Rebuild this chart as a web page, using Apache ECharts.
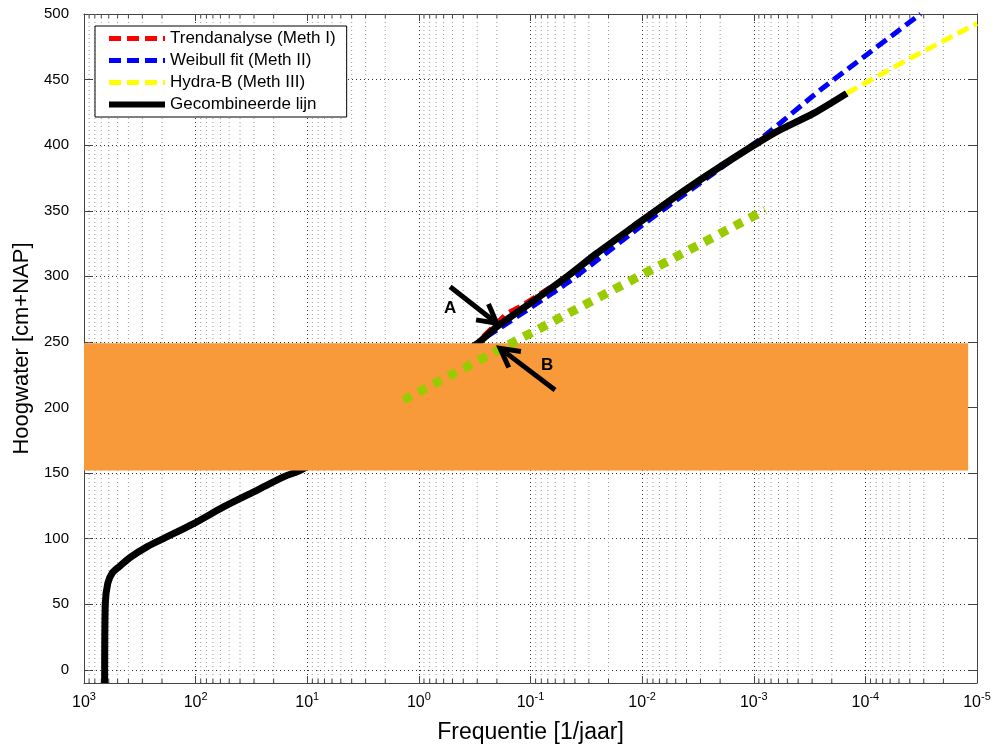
<!DOCTYPE html>
<html>
<head>
<meta charset="utf-8">
<title>Hoogwater frequentielijn</title>
<script src="https://cdn.jsdelivr.net/npm/echarts@6/dist/echarts.min.js"></script>
<style>
html,body{margin:0;padding:0;background:#fff;}
#main{width:1008px;height:744px;}
</style>
</head>
<body>
<div id="main"></div>
<script>
// frequentie in 1/jaar, hoogwater in cm+NAP
var trendFreq = [0.266, 0.163, 0.124, 0.0415, 0.0292];
var trendLevel = [254, 271.8, 276.9, 302.5, 312.5];

var weibullFreq = [0.247, 0.0473, 0.0104, 8.2e-4, 2.54e-4, 3.2e-5];
var weibullLevel = [254, 294.7, 337.8, 406.5, 442, 500];

var hydraFreq = [1.47e-4, 4.26e-5, 1e-5];
var hydraLevel = [439.5, 464.9, 492.8];

var combFreq = [653, 645, 612, 557, 486, 382, 271, 192, 103, 55.7, 28, 16.1, 10.7,
  0.295, 0.2005, 0.101, 0.0473, 0.0255, 0.01197, 0.00456, 0.002, 6.65e-4, 2.92e-4, 1.47e-4];
var combLevel = [-10, 50, 66, 74, 78.6, 86, 94, 100.3, 111.7, 124.4, 137.1, 147.3, 153.7,
  249.2, 261.6, 279.4, 299.7, 317.5, 337.8, 363.3, 383.6, 409, 424.2, 439.5];

var greenFreq = [1.377, 7.9e-4];
var greenLevel = [205.7, 350.6];

// oranje band
var bandFreq = [1e3, 1.2e-5];
var bandLevel = [152, 249];

// pijlen A en B
var arrowNames = ['A', 'B'];
var arrowTailFreq = [0.525, 0.0603];
var arrowTailLevel = [292.1, 213.4];
var arrowTipFreq = [0.2005, 0.187];
var arrowTipLevel = [264.2, 245.1];
var arrowLabelFreq = [0.525, 0.071];
var arrowLabelLevel = [275.9, 232.4];

// assen
var xMin = 1e-5, xMax = 1e3;
var yMin = -10, yMax = 500;
var decades = [-5, -4, -3, -2, -1, 0, 1, 2];
var minorSteps = [2, 3, 4, 5, 6, 7, 8, 9];

var font = "'Liberation Sans', Arial, Helvetica, sans-serif";

function pairs(xs, ys) {
  var out = [];
  for (var i = 0; i < xs.length; i++) out.push([xs[i], ys[i]]);
  return out;
}

var minorData = [];
decades.forEach(function (d) {
  minorSteps.forEach(function (k) { minorData.push([k * Math.pow(10, d), 0]); });
});

var arrowData = [];
for (var i = 0; i < arrowNames.length; i++) {
  arrowData.push([arrowTailFreq[i], arrowTailLevel[i], arrowTipFreq[i], arrowTipLevel[i],
    arrowLabelFreq[i], arrowLabelLevel[i]]);
}

var gridLine = {color: '#333', type: [1, 3], width: 1};

var myChart = echarts.init(document.getElementById('main'));
var option = {
  animation: false,
  backgroundColor: '#fff',
  textStyle: {fontFamily: font},
  grid: {left: 84, right: 31, top: 14, bottom: 61, containLabel: false, outerBoundsMode: 'none'},
  legend: {
    data: [
      {name: 'Trendanalyse (Meth I)'},
      {name: 'Weibull fit (Meth II)'},
      {name: 'Hydra-B (Meth III)'},
      {name: 'Gecombineerde lijn', lineStyle: {width: 6}}
    ],
    orient: 'vertical',
    left: 95, top: 26,
    padding: [4, 11, 4, 11],
    itemWidth: 56, itemHeight: 14, itemGap: 5,
    backgroundColor: '#fff', borderColor: '#000', borderWidth: 1, borderRadius: 0,
    selectedMode: false,
    itemStyle: {opacity: 0},
    lineStyle: {width: 5},
    textStyle: {fontSize: 17, lineHeight: 17, color: '#000', fontFamily: font}
  },
  xAxis: [{
    type: 'log', logBase: 10, min: xMin, max: xMax, inverse: true,
    splitNumber: 8,
    name: 'Frequentie [1/jaar]', nameLocation: 'middle', nameGap: 38,
    nameTextStyle: {fontSize: 23, color: '#000', fontFamily: font},
    axisLine: {onZero: false, lineStyle: {color: '#444', width: 1}},
    axisTick: {inside: true, length: 7, lineStyle: {color: '#444'}},
    splitLine: {show: true, lineStyle: gridLine},
    axisLabel: {
      margin: 8, color: '#000',
      formatter: function (v) {
        var e = Math.round(Math.log10(v));
        return '{b|10}{s|' + e + '}';
      },
      rich: {
        b: {fontSize: 16, fontFamily: font, color: '#000', verticalAlign: 'bottom'},
        s: {fontSize: 11, fontFamily: font, color: '#000', verticalAlign: 'bottom', padding: [0, 0, 9, 0]}
      }
    }
  }, {
    type: 'log', logBase: 10, min: xMin, max: xMax, inverse: true, position: 'top',
    splitNumber: 8,
    axisLine: {onZero: false, lineStyle: {color: '#444', width: 1}},
    axisTick: {inside: true, length: 7, lineStyle: {color: '#444'}},
    axisLabel: {show: false},
    splitLine: {show: false}
  }],
  yAxis: [{
    type: 'value', min: yMin, max: yMax, splitNumber: 10,
    name: 'Hoogwater [cm+NAP]', nameLocation: 'middle', nameGap: 40,
    nameTextStyle: {fontSize: 22, color: '#000', fontFamily: font},
    axisLine: {show: true, lineStyle: {color: '#444', width: 1}},
    axisTick: {show: true, inside: true, length: 8, lineStyle: {color: '#444'}},
    splitLine: {show: true, lineStyle: gridLine},
    axisLabel: {
      margin: 15, fontSize: 15, color: '#000',
      formatter: function (v) { return v % 50 === 0 ? String(v) : ''; }
    }
  }, {
    type: 'value', min: yMin, max: yMax, splitNumber: 10, position: 'right',
    axisLine: {show: true, lineStyle: {color: '#444', width: 1}},
    axisTick: {show: true, inside: true, length: 8, lineStyle: {color: '#444'}},
    axisLabel: {show: false},
    splitLine: {show: false}
  }],
  series: [
    {
      // fijne rasterlijnen tussen de decades
      type: 'custom', z: 1, silent: true,
      data: minorData,
      renderItem: function (params, api) {
        var v = api.value(0);
        var top = api.coord([v, yMax]);
        var bot = api.coord([v, yMin]);
        return {
          type: 'group',
          children: [
            {type: 'line', shape: {x1: top[0], y1: top[1], x2: bot[0], y2: bot[1]},
              style: {stroke: '#999', lineWidth: 1, lineDash: [1, 3]}},
            {type: 'line', shape: {x1: bot[0], y1: bot[1], x2: bot[0], y2: bot[1] - 4},
              style: {stroke: '#444', lineWidth: 1}},
            {type: 'line', shape: {x1: top[0], y1: top[1], x2: top[0], y2: top[1] + 4},
              style: {stroke: '#444', lineWidth: 1}}
          ]
        };
      }
    },
    {
      name: 'Trendanalyse (Meth I)', type: 'line', z: 2,
      data: pairs(trendFreq, trendLevel),
      showSymbol: false, symbol: 'none', smooth: false,
      itemStyle: {color: '#FF0000'},
      lineStyle: {color: '#FF0000', width: 5, type: [12, 6]}
    },
    {
      name: 'Weibull fit (Meth II)', type: 'line', z: 2,
      data: pairs(weibullFreq, weibullLevel),
      showSymbol: false, symbol: 'none', smooth: 0.2,
      itemStyle: {color: '#0000FF'},
      lineStyle: {color: '#0000FF', width: 5, type: [12, 6]}
    },
    {
      name: 'Hydra-B (Meth III)', type: 'line', z: 2,
      data: pairs(hydraFreq, hydraLevel),
      showSymbol: false, symbol: 'none',
      itemStyle: {color: '#FFFF00'},
      lineStyle: {color: '#FFFF00', width: 5, type: [12, 6]}
    },
    {
      name: 'Gecombineerde lijn', type: 'line', z: 3,
      data: pairs(combFreq, combLevel),
      showSymbol: false, symbol: 'none', smooth: 0.3,
      itemStyle: {color: '#000'},
      lineStyle: {color: '#000', width: 7}
    },
    {
      type: 'custom', z: 4, silent: true,
      data: [[bandFreq[0], bandLevel[0], bandFreq[1], bandLevel[1]]],
      encode: {x: [0, 2], y: [1, 3]},
      renderItem: function (params, api) {
        var a = api.coord([api.value(0), api.value(1)]);
        var b = api.coord([api.value(2), api.value(3)]);
        return {
          type: 'rect',
          shape: {x: Math.min(a[0], b[0]), y: Math.min(a[1], b[1]),
            width: Math.abs(b[0] - a[0]), height: Math.abs(b[1] - a[1])},
          style: {fill: '#F89A3A'}
        };
      }
    },
    {
      type: 'line', z: 5, silent: true,
      data: pairs(greenFreq, greenLevel),
      showSymbol: false, symbol: 'none',
      lineStyle: {color: '#99CC00', width: 9, type: [9, 8], cap: 'butt'}
    },
    {
      type: 'custom', z: 6, silent: true,
      data: arrowData,
      encode: {x: [0, 2, 4], y: [1, 3, 5]},
      renderItem: function (params, api) {
        var tail = api.coord([api.value(0), api.value(1)]);
        var tip = api.coord([api.value(2), api.value(3)]);
        var lab = api.coord([api.value(4), api.value(5)]);
        var ang = Math.atan2(tail[1] - tip[1], tail[0] - tip[0]);
        var wing = 21, spread = 0.5;
        var w1 = [tip[0] + wing * Math.cos(ang + spread), tip[1] + wing * Math.sin(ang + spread)];
        var w2 = [tip[0] + wing * Math.cos(ang - spread), tip[1] + wing * Math.sin(ang - spread)];
        return {
          type: 'group',
          children: [
            {type: 'line', shape: {x1: tail[0], y1: tail[1], x2: tip[0], y2: tip[1]},
              style: {stroke: '#000', lineWidth: 5}},
            {type: 'polyline', shape: {points: [w1, tip, w2]},
              style: {stroke: '#000', lineWidth: 5, fill: null, lineJoin: 'miter'}},
            {type: 'text', style: {text: arrowNames[params.dataIndex], x: lab[0], y: lab[1],
              font: 'bold 17px ' + font, fill: '#000', align: 'center', verticalAlign: 'middle'}}
          ]
        };
      }
    }
  ]
};
myChart.setOption(option);
</script>
</body>
</html>
